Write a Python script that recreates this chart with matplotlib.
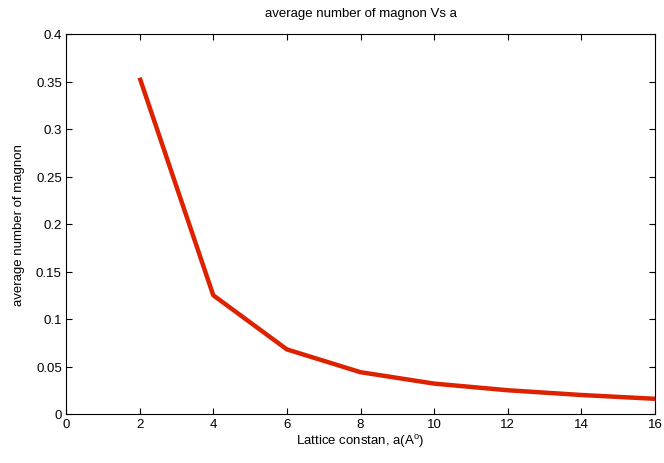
import matplotlib
matplotlib.use("Agg")
import matplotlib.pyplot as plt

# lattice constant vs average magnon number
a = [2, 4, 6, 8, 10, 12, 14, 16]
n_magnon = [0.354, 0.125, 0.068, 0.044, 0.032, 0.025, 0.020, 0.016]

xticks = [0, 2, 4, 6, 8, 10, 12, 14, 16]
yticks = [0, 0.05, 0.1, 0.15, 0.2, 0.25, 0.3, 0.35, 0.4]
yticklabels = ["0", "0.05", "0.1", "0.15", "0.2", "0.25", "0.3", "0.35", "0.4"]

plt.rcParams['font.family'] = ['Liberation Sans', 'DejaVu Sans']
plt.rcParams['mathtext.fontset'] = 'custom'
plt.rcParams['mathtext.rm'] = 'Liberation Sans'

fig = plt.figure(figsize=(6.64, 4.64), dpi=100)
ax = fig.add_axes([66/664, 49/464, 589/664, 380/464])

ax.plot(a, n_magnon, "-", color="#dd2200", lw=3.2, solid_capstyle="butt")

ax.set_xlim(0, 16)
ax.set_ylim(0, 0.4)
ax.set_xticks(xticks)
ax.set_yticks(yticks)
ax.set_yticklabels(yticklabels)
ax.tick_params(direction="in", top=True, right=True, length=4, width=0.8,
               labelsize=9.5, colors="#000000", pad=3)
for s in ax.spines.values():
    s.set_linewidth(0.8)

ax.set_xlabel("Lattice constan, a(A$^{\\mathrm{o}}$)", fontsize=9.5, labelpad=1)
ax.set_ylabel("average number of magnon", fontsize=9.5, labelpad=8)
ax.set_title("average number of magnon Vs a", fontsize=9.5, pad=13)

fig.savefig("out.png", dpi=100)
